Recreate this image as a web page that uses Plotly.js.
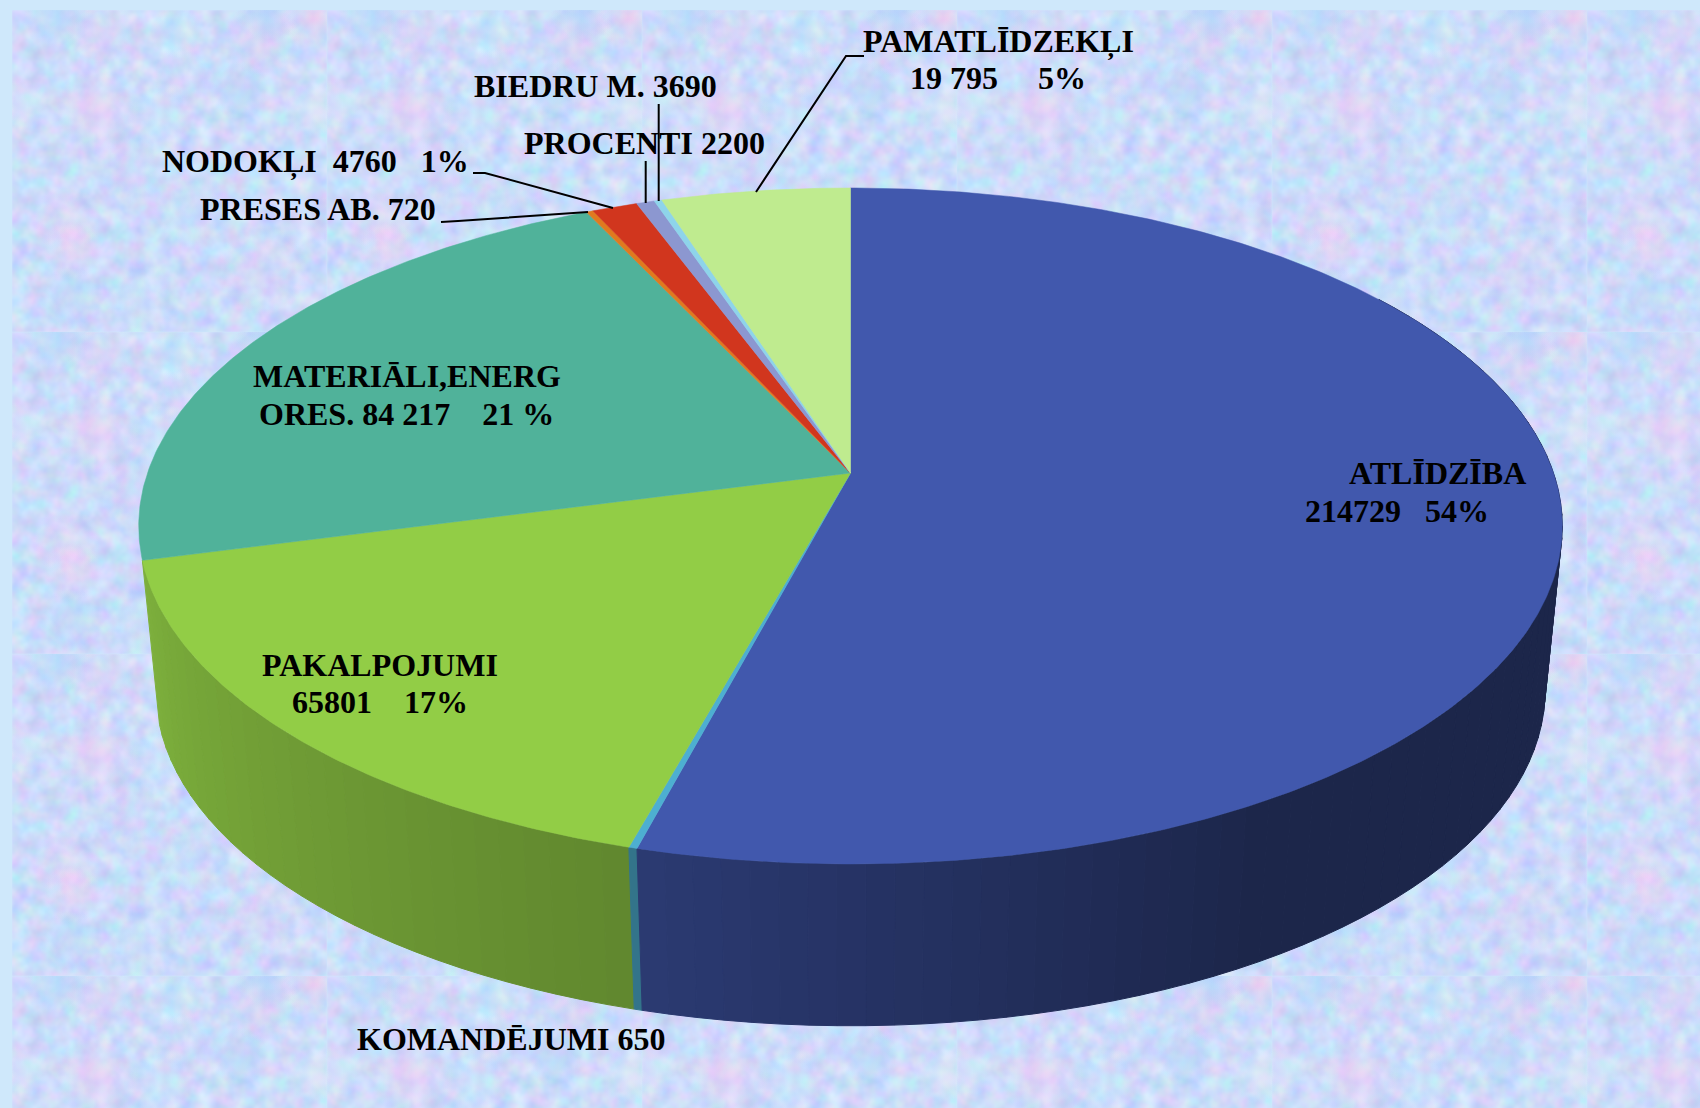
<!DOCTYPE html>
<html>
<head>
<meta charset="utf-8">
<script src="https://cdn.plot.ly/plotly-3.0.1.min.js"></script>
<style>
html,body{margin:0;padding:0;width:1700px;height:1108px;overflow:hidden;background:#cfe8fb}
#bg{position:absolute;left:12px;top:10px;width:1688px;height:1098px}
#chart{position:absolute;left:0;top:0;width:1700px;height:1108px}
</style>
</head>
<body>
<div id="bg"></div>
<div id="chart"></div>
<script>
// Data: sector sizes as drawn in the picture (typed labels differ for three small/medium sectors)
const categories = ["ATLĪDZĪBA","KOMANDĒJUMI","PAKALPOJUMI","MATERIĀLI,ENERGORES.","PRESES AB.","NODOKĻI","PROCENTI","BIEDRU M.","PAMATLĪDZEKĻI"];
const sectorValues = [214729,650,65801,87400,720,4760,1900,800,19795];
const topColors = ["#4158ad","#4dafd1","#92cd46","#50b29a","#e07a1f","#d1361e","#8c97d0","#8ed4ea","#bfeb8f"];

// Text as printed on the chart
const labelLines = [
  "ATLĪDZĪBA", "214729\u00a0\u00a0\u00a054%",
  "KOMANDĒJUMI 650",
  "PAKALPOJUMI", "65801\u00a0\u00a0\u00a0\u00a017%",
  "MATERIĀLI,ENERG", "ORES. 84 217\u00a0\u00a0\u00a0\u00a021 %",
  "PRESES AB. 720",
  "NODOKĻI\u00a0\u00a04760\u00a0\u00a0\u00a01%",
  "PROCENTI 2200",
  "BIEDRU M. 3690",
  "PAMATLĪDZEKĻI", "19 795\u00a0\u00a0\u00a0\u00a0\u00a05%"
];
const labelX = [1437,1397,511,380,380,407,406,318,315,644,595,998,998];
const labelY = [473,511,1039,665,702,376,414,209,161,143,86,41,78];

const leaderPaths = [
  "M864 56 L846 56 L756 192",
  "M645.7 161 L645.7 203",
  "M658.7 104 L658.7 201",
  "M473 173 L485 173 L613 208",
  "M441 222 L458 221 L588 212"
];

// Perspective projection of the pie disc (top and bottom planes)
const top_ = {cx:850.5, y0:473, a:703, b:329.7, k:0.1567};
const bot_ = {cx:850.5, y0:638, a:686, b:327,   k:0.1567};
const DEG = Math.PI/180;
function proj(p,t){
  const X=Math.sin(t*DEG), Y=Math.cos(t*DEG), w=1+p.k*Y;
  return [p.cx+p.a*X/w, p.y0-p.b*Y/w];
}
const shadeT=[0,150,195,255,290,360], shadeF=[0.42,0.43,0.66,0.86,0.9,0.9];
function shade(t){
  t=((t%360)+360)%360;
  for(let i=1;i<shadeT.length;i++){
    if(t<=shadeT[i]){const u=(t-shadeT[i-1])/(shadeT[i]-shadeT[i-1]);return shadeF[i-1]+u*(shadeF[i]-shadeF[i-1]);}
  }
  return 0.9;
}
function mul(hex,f){
  const n=parseInt(hex.slice(1),16);
  return `rgb(${Math.round((n>>16&255)*f)},${Math.round((n>>8&255)*f)},${Math.round((n&255)*f)})`;
}

const total=sectorValues.reduce((a,b)=>a+b,0);
const wallStrips=[], topTraces=[];
let acc=0;
sectorValues.forEach((v,i)=>{
  const t0=acc/total*360, t1=(acc+v)/total*360; acc+=v;
  // top face
  const xs=[top_.cx], ys=[top_.y0];
  const nT=Math.max(2,Math.ceil((t1-t0)/0.5));
  for(let j=0;j<=nT;j++){const p=proj(top_,t0+(t1-t0)*j/nT);xs.push(p[0]);ys.push(p[1]);}
  xs.push(top_.cx);ys.push(top_.y0);
  topTraces.push({type:"scatter",mode:"lines",x:xs,y:ys,fill:"toself",fillcolor:topColors[i],
    line:{color:topColors[i],width:0.5},hoverinfo:"skip",showlegend:false,name:categories[i]});
  // side wall, in strips so the shading can vary round the rim; only sectors starting on the front half show one
  const lo=Math.max(t0,55), hi=t1;
  if(t0<180 || (t0<270 && t1<300)){
    const nS=Math.max(1,Math.ceil((hi-lo)/2));
    for(let j=0;j<nS;j++){
      const a=lo+(hi-lo)*j/nS, b=lo+(hi-lo)*(j+1)/nS, wx=[], wy=[];
      for(let q=0;q<=3;q++){const p=proj(top_,a+(b-a)*q/3);wx.push(p[0]);wy.push(p[1]);}
      for(let q=3;q>=0;q--){const p=proj(bot_,a+(b-a)*q/3);wx.push(p[0]);wy.push(p[1]);}
      wx.push(wx[0]);wy.push(wy[0]);
      const col=mul(topColors[i],shade((a+b)/2));
      wallStrips.push({depth:Math.cos((a+b)/2*DEG),trace:{type:"scatter",mode:"lines",x:wx,y:wy,fill:"toself",fillcolor:col,
        line:{color:col,width:1},hoverinfo:"skip",showlegend:false,name:categories[i]+" side"}});
    }
  }
});
wallStrips.sort((p,q)=>q.depth-p.depth);
const traces=wallStrips.map(s=>s.trace).concat(topTraces);

const annotations=labelLines.map((s,i)=>({text:s,x:labelX[i],y:labelY[i],xref:"x",yref:"y",showarrow:false,
  xanchor:"center",yanchor:"middle",font:{family:"Liberation Serif, Times New Roman, serif",size:32,color:"#000",weight:700}}));
const shapes=leaderPaths.map(d=>({type:"path",path:d,xref:"x",yref:"y",line:{color:"#000",width:2}}));

const layout={width:1700,height:1108,margin:{l:0,r:0,t:0,b:0},paper_bgcolor:"rgba(0,0,0,0)",plot_bgcolor:"rgba(0,0,0,0)",
  xaxis:{range:[0,1700],visible:false,fixedrange:true},yaxis:{range:[1108,0],visible:false,fixedrange:true},
  showlegend:false,annotations,shapes};

// Mottled tiled backdrop
const blotches=[
 [88,20,34,"#f4c8ee",.38],[85,100,42,"#fcc8f2",.5],[300,8,30,"#fcc4ea",.42],[250,28,38,"#eecaee",.38],
 [170,65,30,"#e4d4fa",.3],[45,6,34,"#a4d4f8",.5],[255,2,32,"#a0ccfa",.5],[165,22,26,"#b8eef6",.45],
 [227,80,30,"#a4d4f6",.42],[300,100,28,"#e8f4f6",.55],[10,95,26,"#e4f0f6",.5],[150,105,34,"#c8eefa",.38],
 [55,210,34,"#f8ccee",.38],[61,240,30,"#f8c8f0",.38],[60,288,32,"#a8d0f6",.38],[180,200,40,"#bce6f6",.32],
 [250,260,46,"#f0ccee",.28],[130,290,40,"#c0e4fa",.32],[295,210,30,"#dcd4fa",.3],[120,160,34,"#d4ccf6",.28]
];
let grads="", circles="";
blotches.forEach((b,i)=>{
  grads+=`<radialGradient id="g${i}"><stop offset="0" stop-color="${b[3]}" stop-opacity="${b[4]}"/><stop offset="1" stop-color="${b[3]}" stop-opacity="0"/></radialGradient>`;
  circles+=`<circle cx="${b[0]}" cy="${b[1]}" r="${b[2]}" fill="url(#g${i})"/>`;
});
const tile=`<svg xmlns="http://www.w3.org/2000/svg" width="315" height="322"><defs>${grads}
<filter id="n" x="0" y="0" width="100%" height="100%" color-interpolation-filters="sRGB">
<feTurbulence type="fractalNoise" baseFrequency="0.06" numOctaves="3" seed="7"/>
<feColorMatrix values="0.28 0 0 0 0.66  0 0.22 0 0 0.75  0 0 0.1 0 0.93  0 0 0 0 1"/>
<feGaussianBlur stdDeviation="1"/></filter></defs>
<rect width="315" height="322" fill="#c4d6f6" filter="url(#n)"/>${circles}</svg>`;
const bg=document.getElementById("bg");
bg.style.backgroundImage=`url("data:image/svg+xml,${encodeURIComponent(tile)}")`;
bg.style.backgroundSize="315px 322px";

Plotly.newPlot("chart",traces,layout,{displayModeBar:false,staticPlot:true});
</script>
</body>
</html>
